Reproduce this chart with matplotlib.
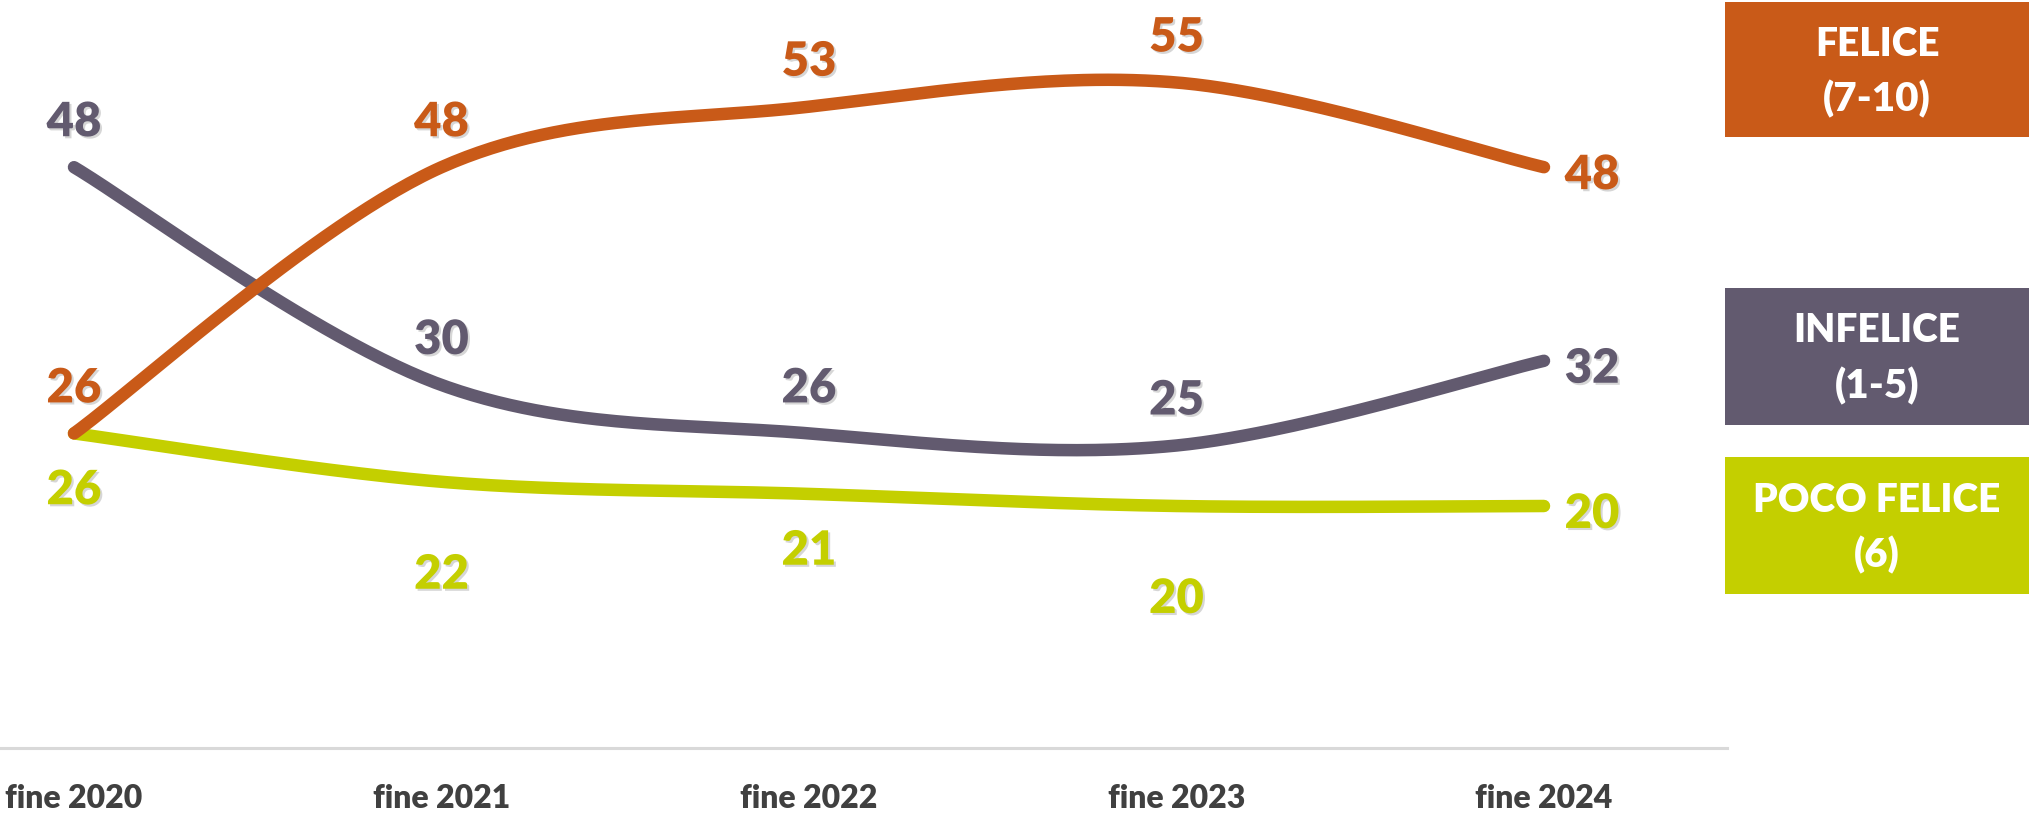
import numpy as np
import matplotlib
matplotlib.use("Agg")
import matplotlib.pyplot as plt
from matplotlib.patches import Rectangle
import matplotlib.patheffects as pe

# ---------------- data ----------------
categories = ["fine 2020", "fine 2021", "fine 2022", "fine 2023", "fine 2024"]
felice = [26, 48, 53, 55, 48]
infelice = [48, 30, 26, 25, 32]
poco_felice = [26, 22, 21, 20, 20]

series_names = ["FELICE", "INFELICE", "POCO FELICE"]
series_ranges = ["(7-10)", "(1-5)", "(6)"]
series_values = [felice, infelice, poco_felice]
series_colors = ["#C95A18", "#625A6F", "#C4CF00"]

# label offsets (points) relative to each data point: (dx, dy) of text baseline
label_offsets = [
    [(0, 22.3), (0, 22.3), (0, 22.3), (0, 22.3), (34.6, -15.8)],
    [(0, 22.3), (0, 22.3), (0, 22.3), (0, 22.3), (34.6, -15.8)],
    [(0, -51), (0, -77), (0, -51), (0, -77), (34.6, -15.8)],
]

W, H = 2029, 818
DPI = 100
fig = plt.figure(figsize=(W / DPI, H / DPI), dpi=DPI)
plt.rcParams['font.family'] = ['Lato', 'DejaVu Sans']
WEIGHT = "heavy"

# axes geometry in pixels
ax_left_px, ax_right_px = 0, 1727
zero_px = 748          # y pixel (from top) of value 0
px_per_unit = 12.1
x0_px, x4_px = 74, 1544
ax = fig.add_axes([ax_left_px / W, 1 - zero_px / H,
                   (ax_right_px - ax_left_px) / W, zero_px / H])
step = (x4_px - x0_px) / 4
ax.set_xlim(-(x0_px - ax_left_px) / step, 4 + (ax_right_px - x4_px) / step)
ax.set_ylim(0, zero_px / px_per_unit)


def smooth(xs, ys, n=60):
    pts = np.column_stack([xs, ys]).astype(float)
    m = len(pts)
    out = []
    t = np.linspace(0, 1, n)[:, None]
    for i in range(m - 1):
        p0 = pts[max(i - 1, 0)]
        p1 = pts[i]
        p2 = pts[i + 1]
        p3 = pts[min(i + 2, m - 1)]
        c1 = p1 + (p2 - p0) / 6.0
        c2 = p2 - (p3 - p1) / 6.0
        seg = ((1 - t) ** 3) * p1 + 3 * ((1 - t) ** 2) * t * c1 + 3 * (1 - t) * t ** 2 * c2 + t ** 3 * p2
        out.append(seg if i == 0 else seg[1:])
    out = np.vstack(out)
    return out[:, 0], out[:, 1]


xs = np.arange(len(categories))
shadow = [pe.withSimplePatchShadow(offset=(1.5, -1.5), shadow_rgbFace="#999999", alpha=0.4)]

# draw order: poco felice, infelice, felice (orange on top)
for idx in [2, 1, 0]:
    vals = series_values[idx]
    sx, sy = smooth(xs, vals)
    ax.plot(sx, sy, color=series_colors[idx], lw=9, solid_capstyle="round",
            solid_joinstyle="round", clip_on=False, zorder=3 + (2 - idx))

for idx in range(3):
    vals = series_values[idx]
    for i, v in enumerate(vals):
        dx, dy = label_offsets[idx][i]
        ax.annotate(str(v), xy=(xs[i], v), xytext=(dx, dy), textcoords="offset points",
                    ha="center", va="baseline", fontsize=34, fontweight=WEIGHT,
                    color=series_colors[idx], path_effects=shadow, zorder=10,
                    annotation_clip=False)

# axes styling
for s in ["top", "left", "right"]:
    ax.spines[s].set_visible(False)
ax.spines["bottom"].set_color("#D9D9D9")
ax.spines["bottom"].set_linewidth(2.2)
ax.set_yticks([])
ax.set_xticks(xs)
ax.set_xticklabels(categories, fontsize=23, fontweight=WEIGHT, color="#404040")
ax.tick_params(axis="x", length=0, pad=43.2)
for lab in ax.get_xticklabels():
    lab.set_va("baseline")
ax.patch.set_alpha(0)

# legend boxes on the right
boxes = [(2, 137), (288, 425), (457, 594)]
bx0, bx1 = 1725, 2029
for idx, (top, bot) in enumerate(boxes):
    fig.patches.append(Rectangle((bx0 / W, 1 - bot / H), (bx1 - bx0) / W, (bot - top) / H,
                                 transform=fig.transFigure, facecolor=series_colors[idx],
                                 edgecolor="none", zorder=1))
    cx = (bx0 + bx1) / 2 / W
    cy = (top + bot) / 2
    fig.text(cx, 1 - (cy - 28 + 14) / H, series_names[idx], ha="center", va="baseline",
             fontsize=28, fontweight=WEIGHT, color="white", zorder=5)
    fig.text(cx, 1 - (cy + 28 + 14) / H, series_ranges[idx], ha="center", va="baseline",
             fontsize=29, fontweight=WEIGHT, color="white", zorder=5)

fig.savefig("out.png", dpi=DPI)
